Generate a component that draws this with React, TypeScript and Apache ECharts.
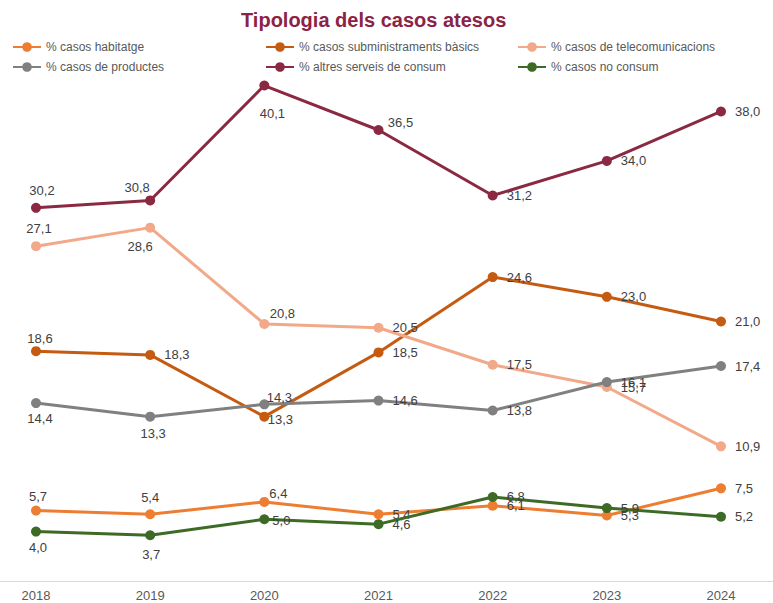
import React, { useEffect, useRef } from "react";
import * as echarts from "echarts";

const years = ["2018", "2019", "2020", "2021", "2022", "2023", "2024"];

const seriesNames = [
  "% casos habitatge",
  "% casos subministraments bàsics",
  "% casos de telecomunicacions",
  "% casos de productes",
  "% altres serveis de consum",
  "% casos no consum",
];

const habitatge = [5.7, 5.4, 6.4, 5.4, 6.1, 5.3, 7.5];
const subministraments = [18.6, 18.3, 13.3, 18.5, 24.6, 23.0, 21.0];
const telecomunicacions = [27.1, 28.6, 20.8, 20.5, 17.5, 15.7, 10.9];
const productes = [14.4, 13.3, 14.3, 14.6, 13.8, 16.1, 17.4];
const altresServeis = [30.2, 30.8, 40.1, 36.5, 31.2, 34.0, 38.0];
const noConsum = [4.0, 3.7, 5.0, 4.6, 6.8, 5.9, 5.2];

const colors = ["#ED7D31", "#C55A11", "#F2A98A", "#808080", "#8B2942", "#3D6B26"];

// label placement: "R" = right of point, otherwise [dx, dy] of label centre from point
type Place = "R" | [number, number];
const labelPlaces: Place[][] = [
  [[2, -14], [0, -17], [14, -8], "R", "R", "R", "R"],
  [[4, -13], "R", [16, 3], "R", "R", "R", "R"],
  [[3, -18], [-10, 19], [18, -11], "R", "R", "R", "R"],
  [[4, 15], [3, 17], [15, -7], "R", "R", "R", "R"],
  [[6, -17], [-13, -13], [8, 28], [22, -8], "R", "R", "R"],
  [[2, 16], [1, 19], [17, 1], "R", "R", "R", "R"],
];

const seriesData = [habitatge, subministraments, telecomunicacions, productes, altresServeis, noConsum];

const FONT = "'Liberation Sans', Arial, sans-serif";

export default function App() {
  const ref = useRef<HTMLDivElement>(null);

  useEffect(() => {
    if (!ref.current) return;
    const chart = echarts.init(ref.current, null, { renderer: "svg" });

    const fmt = (v: number) => v.toFixed(1).replace(".", ",");

    const series = seriesData.map((vals, si) => ({
      name: seriesNames[si],
      type: "line",
      data: vals.map((v, i) => {
        const p = labelPlaces[si][i];
        const label =
          p === "R"
            ? { position: "right", distance: 9 }
            : { position: "inside", offset: p };
        return { value: v, label };
      }),
      symbol: "circle",
      symbolSize: 10,
      lineStyle: { width: 3, color: colors[si] },
      itemStyle: { color: colors[si] },
      label: {
        show: true,
        formatter: (p: any) => fmt(p.value),
        fontSize: 13,
        color: "#404040",
        fontFamily: FONT,
      },
      z: 2 + si,
    }));

    const legendCommon = {
      orient: "vertical",
      top: 41,
      padding: 0,
      itemWidth: 28,
      itemHeight: 12,
      itemGap: 8,
      textStyle: { fontSize: 12, color: "#595959", fontFamily: FONT },
    };

    chart.setOption({
      animation: false,
      color: colors,
      title: {
        text: "Tipologia dels casos atesos",
        left: 236,
        top: 5,
        textStyle: { fontSize: 20, fontWeight: "bold", color: "#8B2346", fontFamily: FONT },
      },
      legend: [
        { ...legendCommon, left: 12, data: [seriesNames[0], seriesNames[3]] },
        { ...legendCommon, left: 265, data: [seriesNames[1], seriesNames[4]] },
        { ...legendCommon, left: 517, data: [seriesNames[2], seriesNames[5]] },
      ],
      grid: { left: 36, right: 52, top: 25, bottom: 22 },
      xAxis: {
        type: "category",
        data: years,
        boundaryGap: false,
        axisLine: { show: false },
        axisTick: { show: false },
        axisLabel: { fontSize: 13, color: "#595959", fontFamily: FONT, margin: 8 },
      },
      yAxis: {
        type: "value",
        min: 0,
        max: 45,
        show: false,
        splitLine: { show: false },
      },
      graphic: [
        {
          type: "line",
          shape: { x1: 0, y1: 581.5, x2: 773, y2: 581.5 },
          style: { stroke: "#D9D9D9", lineWidth: 1 },
          z: 0,
        },
      ],
      series,
    });

    return () => chart.dispose();
  }, []);

  return (
    <div
      ref={ref}
      style={{ position: "fixed", left: 0, top: 0, width: 773, height: 603, background: "#fff" }}
    />
  );
}
